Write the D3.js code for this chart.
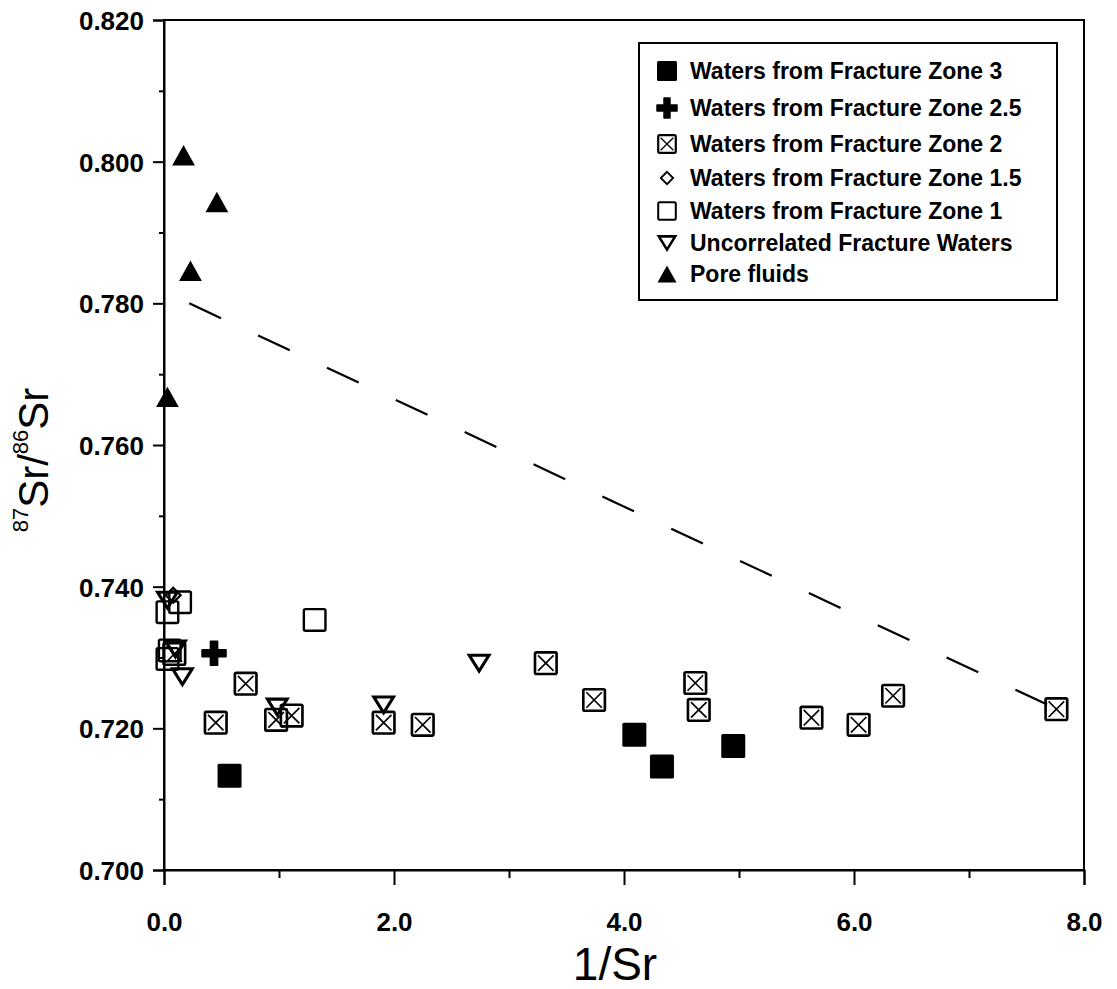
<!DOCTYPE html>
<html>
<head>
<meta charset="utf-8">
<script src="https://cdn.jsdelivr.net/npm/d3@7"></script>
<style>
  html, body { margin: 0; padding: 0; background: #fff; }
  svg { display: block; font-family: "Liberation Sans", Arial, sans-serif; }
</style>
</head>
<body>
<svg id="chart" width="1117" height="989"></svg>
<script>
// ---- data ----
const zone3X  = [0.57, 4.09, 4.33, 4.95];
const zone3Y  = [0.7133, 0.7191, 0.7146, 0.7175];
const zone25X = [0.435];
const zone25Y = [0.7306];
const zone2X  = [0.09, 0.45, 0.71, 0.975, 1.11, 1.91, 2.25, 3.32, 3.74, 4.62, 4.65, 5.63, 6.04, 6.34, 7.76];
const zone2Y  = [0.7305, 0.7208, 0.7263, 0.7212, 0.7218, 0.7208, 0.7205, 0.7292, 0.7240, 0.7264, 0.7226, 0.7215, 0.7205, 0.7246, 0.7227];
const zone15X = [0.08];
const zone15Y = [0.7388];
const zone1X  = [0.03, 0.14, 0.03, 0.05, 1.31];
const zone1Y  = [0.7364, 0.7378, 0.7298, 0.7310, 0.7353];
const uncorrX = [0.03, 0.10, 0.16, 0.985, 1.91, 2.74];
const uncorrY = [0.7381, 0.7312, 0.7273, 0.7230, 0.7233, 0.7292];
const poreX   = [0.17, 0.46, 0.23, 0.03];
const poreY   = [0.8009, 0.7943, 0.7846, 0.7668];
const mixLineX = [0.22, 7.78];
const mixLineY = [0.7800, 0.7226];

const xMajorTicks = [0, 2, 4, 6, 8];
const xMinorTicks = [1, 3, 5, 7];
const yMajorTicks = [0.70, 0.72, 0.74, 0.76, 0.78, 0.80, 0.82];
const yMinorTicks = [0.71, 0.73, 0.75, 0.77, 0.79, 0.81];

const seriesNames = [
  "Waters from Fracture Zone 3",
  "Waters from Fracture Zone 2.5",
  "Waters from Fracture Zone 2",
  "Waters from Fracture Zone 1.5",
  "Waters from Fracture Zone 1",
  "Uncorrelated Fracture Waters",
  "Pore fluids"
];
const seriesKeys = ["fsq", "plus", "xbox", "diam", "osq", "dtri", "utri"];

// ---- layout ----
const L = 164, R = 1084, T = 20, B = 870;
const svg = d3.select("#chart");
const x = d3.scaleLinear().domain([0, 8]).range([L, R]);
const y = d3.scaleLinear().domain([0.70, 0.82]).range([B, T]);

// frame
svg.append("rect").attr("x", L).attr("y", T).attr("width", R - L).attr("height", B - T)
  .attr("fill", "none").attr("stroke", "#000").attr("stroke-width", 2);

// axes
const fontTick = "bold 26px 'Liberation Sans', Arial, sans-serif";
const gx = svg.append("g").attr("transform", `translate(0,${B})`)
  .call(d3.axisBottom(x).tickValues(xMajorTicks).tickSize(15).tickFormat(d3.format(".1f")));
gx.select(".domain").attr("stroke-width", 2);
gx.selectAll(".tick line").attr("stroke-width", 2);
gx.selectAll(".tick text").attr("y", 52).attr("dy", "0.36em")
  .style("font", fontTick).attr("fill", "#000");
const gxm = svg.append("g").attr("transform", `translate(0,${B})`)
  .call(d3.axisBottom(x).tickValues(xMinorTicks).tickSize(8).tickFormat(""));
gxm.select(".domain").remove();
gxm.selectAll(".tick line").attr("stroke-width", 2);

const gy = svg.append("g").attr("transform", `translate(${L},0)`)
  .call(d3.axisLeft(y).tickValues(yMajorTicks).tickSize(11).tickFormat(d3.format(".3f")));
gy.select(".domain").attr("stroke-width", 2);
gy.selectAll(".tick line").attr("stroke-width", 2);
gy.selectAll(".tick text").attr("x", -20).attr("dy", "0.36em")
  .style("font", fontTick).attr("fill", "#000");
const gym = svg.append("g").attr("transform", `translate(${L},0)`)
  .call(d3.axisLeft(y).tickValues(yMinorTicks).tickSize(5).tickFormat(""));
gym.select(".domain").remove();
gym.selectAll(".tick line").attr("stroke-width", 2);

// axis titles
svg.append("text").attr("x", 615).attr("y", 980).attr("text-anchor", "middle")
  .style("font", "46px 'Liberation Sans', Arial, sans-serif").text("1/Sr");

const yt = svg.append("text").attr("transform", "translate(48,460) rotate(-90)")
  .attr("text-anchor", "middle")
  .style("font", "42px 'Liberation Sans', Arial, sans-serif");
yt.append("tspan").attr("font-size", "22px").attr("dy", "-20").text("87");
yt.append("tspan").attr("dy", "20").text("Sr/");
yt.append("tspan").attr("font-size", "22px").attr("dy", "-20").text("86");
yt.append("tspan").attr("dy", "20").text("Sr");

// mixing line
svg.append("line")
  .attr("x1", x(mixLineX[0])).attr("y1", y(mixLineY[0]))
  .attr("x2", x(mixLineX[1])).attr("y2", y(mixLineY[1]))
  .attr("stroke", "#000").attr("stroke-width", 2.2).attr("stroke-dasharray", "35,41");

// marker drawing
function drawMarker(g, key, cx, cy, s) {
  const h = s / 2;
  const m = g.append("g").attr("transform", `translate(${cx},${cy})`);
  if (key === "fsq") {
    m.append("rect").attr("x", -h).attr("y", -h).attr("width", s).attr("height", s)
      .attr("rx", 1.5).attr("fill", "#000");
  } else if (key === "plus") {
    const a = s * 0.15;
    m.append("path").attr("d",
      `M${-a},${-h}H${a}V${-a}H${h}V${a}H${a}V${h}H${-a}V${a}H${-h}V${-a}H${-a}Z`)
      .attr("fill", "#000").attr("stroke", "#000").attr("stroke-width", 1.5).attr("stroke-linejoin", "round");
  } else if (key === "xbox") {
    const hh = h - 1.2;
    m.append("rect").attr("x", -hh).attr("y", -hh).attr("width", 2 * hh).attr("height", 2 * hh)
      .attr("rx", 1.5).attr("fill", "none").attr("stroke", "#000").attr("stroke-width", s * 0.11);
    const k = hh * 0.72;
    m.append("path").attr("d", `M${-k},${-k}L${k},${k}M${k},${-k}L${-k},${k}`)
      .attr("stroke", "#000").attr("stroke-width", s * 0.07).attr("fill", "none");
  } else if (key === "diam") {
    const d = h * 0.62;
    m.append("path").attr("d", `M0,${-d}L${d},0L0,${d}L${-d},0Z`)
      .attr("fill", "none").attr("stroke", "#000").attr("stroke-width", s * 0.09);
  } else if (key === "osq") {
    const hh = h - 1.2;
    m.append("rect").attr("x", -hh).attr("y", -hh).attr("width", 2 * hh).attr("height", 2 * hh)
      .attr("rx", 1.5).attr("fill", "none").attr("stroke", "#000").attr("stroke-width", s * 0.1);
  } else if (key === "dtri") {
    const w = h * 0.82, t = h * 0.66;
    m.append("path").attr("d", `M${-w},${-t}L${w},${-t}L0,${t}Z`)
      .attr("fill", "none").attr("stroke", "#000").attr("stroke-width", s * 0.13).attr("stroke-linejoin", "miter");
  } else if (key === "utri") {
    const w = h * 0.95, t = h * 0.85;
    m.append("path").attr("d", `M0,${-t}L${w},${t}L${-w},${t}Z`).attr("fill", "#000");
  }
}

const plot = svg.append("g");
const series = [
  { key: "osq",  xs: zone1X,  ys: zone1Y },
  { key: "xbox", xs: zone2X,  ys: zone2Y },
  { key: "dtri", xs: uncorrX, ys: uncorrY },
  { key: "diam", xs: zone15X, ys: zone15Y },
  { key: "plus", xs: zone25X, ys: zone25Y },
  { key: "fsq",  xs: zone3X,  ys: zone3Y },
  { key: "utri", xs: poreX,   ys: poreY }
];
series.forEach(sr => {
  sr.xs.forEach((v, i) => drawMarker(plot, sr.key, x(v), y(sr.ys[i]), 24));
});

// legend
const lg = svg.append("g");
lg.append("rect").attr("x", 639).attr("y", 43).attr("width", 418).attr("height", 257)
  .attr("fill", "#fff").attr("stroke", "#000").attr("stroke-width", 2);
const rowY = [71, 108, 144, 178, 211, 243, 274];
seriesNames.forEach((name, i) => {
  drawMarker(lg, seriesKeys[i], 667, rowY[i], 20);
  lg.append("text").attr("x", 690).attr("y", rowY[i]).attr("dy", "0.36em")
    .style("font", "bold 23px 'Liberation Sans', Arial, sans-serif").text(name);
});
</script>
</body>
</html>
